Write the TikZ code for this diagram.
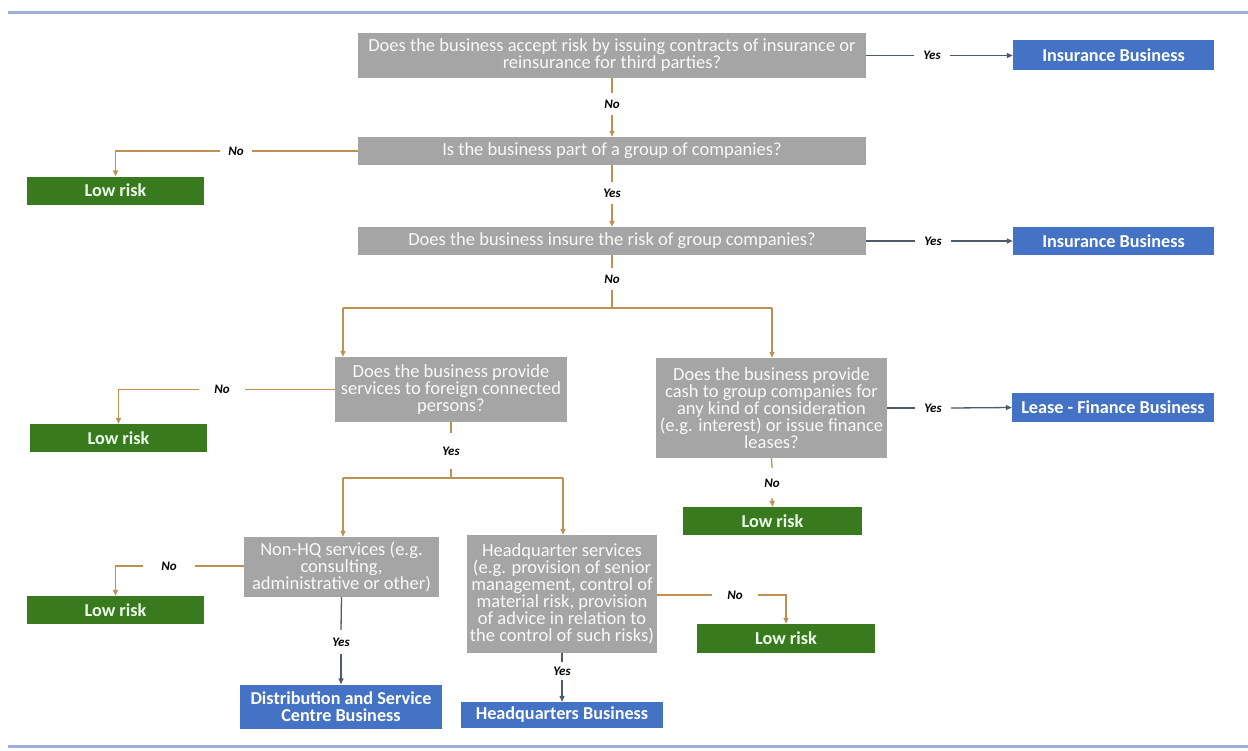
\documentclass[tikz,border=0pt]{standalone}
\usepackage{fontspec}
\setmainfont{Carlito}
\usetikzlibrary{arrows.meta}
\definecolor{qgray}{HTML}{A5A5A5}
\definecolor{resblue}{HTML}{4472C4}
\definecolor{lowgreen}{HTML}{3A7A1F}
\definecolor{flowtan}{HTML}{C09050}
\definecolor{flowdark}{HTML}{4F5A6A}
\definecolor{rulecol}{HTML}{9FAFDC}
\begin{document}
\begin{tikzpicture}[x=1pt,y=-1pt,
  box/.style={draw=none, inner sep=2pt, align=center, anchor=center},
  qbox/.style={box, fill=qgray, text=white!95!gray,
    font=\fontsize{18.5}{17}\selectfont},
  bluebox/.style={box, fill=resblue, text=white,
    font=\fontsize{18.2}{17.5}\selectfont\bfseries},
  greenbox/.style={box, fill=lowgreen, text=green!8!white,
    minimum width=177pt, minimum height=28pt,
    font=\fontsize{18.2}{17.5}\selectfont\bfseries},
  lbl/.style={inner sep=0pt, minimum width=36pt, minimum height=22pt,
    font=\fontsize{13}{13}\selectfont\bfseries\itshape},
  tanline/.style={draw=flowtan, line width=1.3pt},
  tanarrow/.style={tanline, -{Triangle[length=6pt,width=5pt]}},
  darkline/.style={draw=flowdark, line width=1.3pt},
  darkarrow/.style={darkline, -{Triangle[length=6pt,width=5pt]}}
]
\useasboundingbox (0,0) rectangle (1248,750);

% page rules
\draw[rulecol, line width=3pt] (8,12) -- (1248,12);
\draw[rulecol, line width=3pt] (8,746) -- (1248,746);

% questions
\node[qbox, minimum width=508pt, minimum height=45pt] (q1) at (612,55.5)
  {Does the business accept risk by issuing contracts of insurance or\\reinsurance for third parties?};
\node[qbox, minimum width=508pt, minimum height=28pt] (q2) at (612,151)
  {Is the business part of a group of companies?};
\node[qbox, minimum width=508pt, minimum height=28pt] (q3) at (612,241)
  {Does the business insure the risk of group companies?};
\node[qbox, minimum width=232pt, minimum height=65pt] (q4) at (451,389.5)
  {Does the business provide\\services to foreign connected\\persons?};
\node[qbox, minimum width=231pt, minimum height=100pt] (q5) at (771.5,408)
  {Does the business provide\\cash to group companies for\\any kind of consideration\\(e.g. interest) or issue finance\\leases?};
\node[qbox, minimum width=195pt, minimum height=60pt] (q6) at (341.5,567)
  {Non-HQ services (e.g.\\consulting,\\administrative or other)};
\node[qbox, minimum width=190pt, minimum height=118pt] (q7) at (562,594)
  {Headquarter services\\(e.g. provision of senior\\management, control of\\material risk, provision\\of advice in relation to\\the control of such risks)};

% outcomes
\node[bluebox, minimum width=201pt, minimum height=30pt] (ins1) at (1113.5,55) {Insurance Business};
\node[bluebox, minimum width=201pt, minimum height=28pt] (ins2) at (1113.5,241) {Insurance Business};
\node[bluebox, minimum width=202pt, minimum height=29pt] (lease) at (1113,407.5) {Lease - Finance Business};
\node[bluebox, minimum width=202pt, minimum height=44pt] (dist) at (341,706.5) {Distribution and Service\\Centre Business};
\node[bluebox, minimum width=202pt, minimum height=26pt] (hqb) at (562,715) {Headquarters Business};

\node[greenbox] (lr1) at (115.5,190.5) {Low risk};
\node[greenbox] (lr2) at (118.5,438) {Low risk};
\node[greenbox, minimum width=179pt] (lr5) at (772.5,521) {Low risk};
\node[greenbox] (lr3) at (115.5,610) {Low risk};
\node[greenbox, minimum width=178pt, minimum height=29pt] (lr4) at (786,638.5) {Low risk};

% answer labels
\node[lbl] (y1) at (932,55.5) {Yes};
\node[lbl] (n1) at (612,104) {No};
\node[lbl, minimum width=32pt] (n2) at (236,151) {No};
\node[lbl] (y2) at (612,193) {Yes};
\node[lbl] (y3) at (933,241) {Yes};
\node[lbl] (n3) at (612,279) {No};
\node[lbl, minimum width=45pt] (n4) at (222,389.5) {No};
\node[lbl, minimum height=36pt] (y4) at (451,451) {Yes};
\node[lbl] (y5) at (933,408) {Yes};
\node[lbl, minimum height=30pt] (n5) at (772,483) {No};
\node[lbl, minimum width=51pt] (n6) at (169,566) {No};
\node[lbl, minimum height=24pt] (y6) at (341,642) {Yes};
\node[lbl, minimum height=18pt] (y7) at (562,671) {Yes};
\node[lbl, minimum width=46pt] (n7) at (735,595) {No};

% split points
\coordinate (s1) at (612,308);
\coordinate (s1l) at (343,308);
\coordinate (s1r) at (772,308);
\coordinate (s2) at (451,478);
\coordinate (s2l) at (343,478);
\coordinate (s2r) at (563,478);

% connectors
\draw[darkline] (q1.east) -- (y1.west);
\draw[darkarrow] (y1.east) -- (y1.east -| ins1.west);
\draw[tanline] (q1.south) -- (n1.north);
\draw[tanarrow] (n1.south) -- (q2.north);

\draw[tanline] (q2.west) -- (n2.east);
\draw[tanarrow] (n2.west) -| (lr1.north);
\draw[tanline] (q2.south) -- (y2.north);
\draw[tanarrow] (y2.south) -- (q3.north);

\draw[darkline] (q3.east) -- (y3.west);
\draw[darkarrow] (y3.east) -- (ins2.west);
\draw[tanline] (q3.south) -- (n3.north);
\draw[tanline] (n3.south) -- (s1);
\draw[tanline] (s1l) -- (s1r);
\draw[tanarrow] (s1l) -- (s1l |- q4.north);
\draw[tanarrow] (s1r) -- (s1r |- q5.north);

\draw[tanline] (q4.west) -- (n4.east);
\draw[tanarrow] (n4.west) -| (lr2.north);
\draw[tanline] (q4.south) -- (y4.north);
\draw[tanline] (y4.south) -- (s2);
\draw[tanline] (s2l) -- (s2r);
\draw[tanarrow] (s2l) -- (s2l |- q6.north);
\draw[tanarrow] (s2r) -- (s2r |- q7.north);

\draw[darkline] (q5.east |- y5.west) -- (y5.west);
\draw[darkarrow] (y5.east) -- (lease.west);
\draw[tanline] (q5.south) -- (n5.north);
\draw[tanarrow] (n5.south) -- (lr5.north);

\draw[tanline] (q6.west |- n6.east) -- (n6.east);
\draw[tanarrow] (n6.west) -| (lr3.north);
\draw[darkline] (q6.south) -- (y6.north);
\draw[darkarrow] (y6.south) -- (dist.north);

\draw[tanline] (q7.east |- n7.west) -- (n7.west);
\draw[tanarrow] (n7.east) -| (lr4.north);
\draw[darkline] (q7.south) -- (y7.north);
\draw[darkarrow] (y7.south) -- (hqb.north);
\end{tikzpicture}
\end{document}
